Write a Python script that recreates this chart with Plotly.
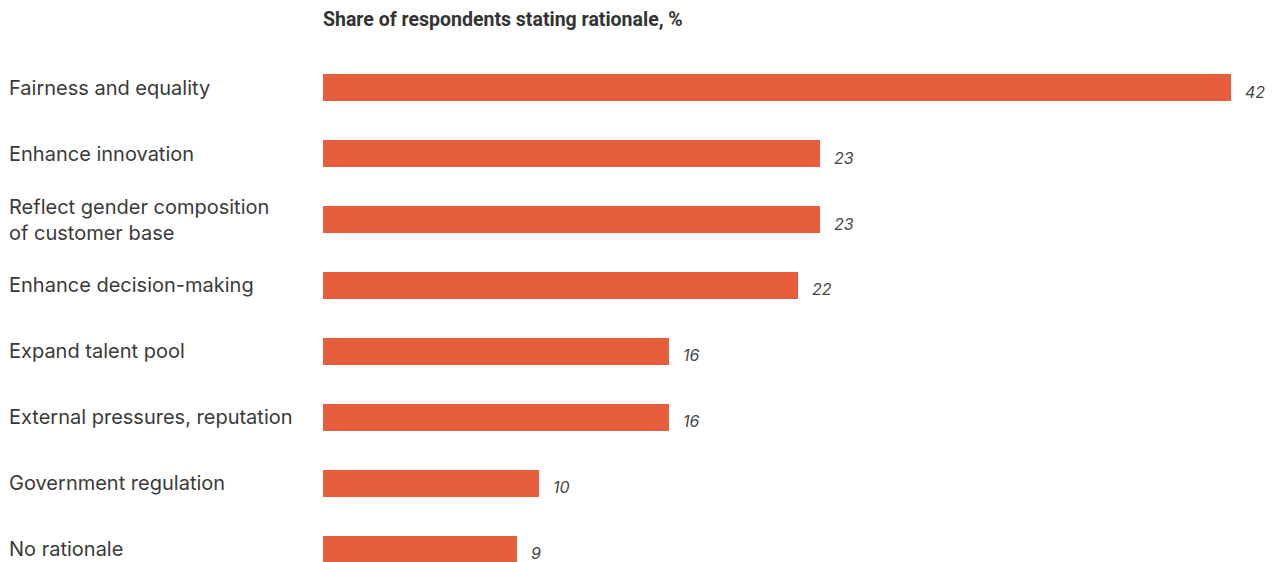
import plotly.graph_objects as go

categories = [
    "Fairness and equality",
    "Enhance innovation",
    "Reflect gender composition<br>of customer base",
    "Enhance decision-making",
    "Expand talent pool",
    "External pressures, reputation",
    "Government regulation",
    "No rationale",
]
values = [42, 23, 23, 22, 16, 16, 10, 9]
title_text = "Share of respondents stating rationale, %"

BAR_COLOR = "#E65E3E"
TEXT_COLOR = "#333333"

W, H = 1277, 562
LEFT, RIGHT, TOP, BOTTOM = 323, 14, 40, 0
plot_w = W - LEFT - RIGHT
plot_h = H - TOP - BOTTOM

pos = list(range(len(categories)))

fig = go.Figure(
    go.Bar(
        x=values,
        y=pos,
        orientation="h",
        marker=dict(color=BAR_COLOR, line=dict(width=0)),
        width=0.41,
        hoverinfo="skip",
    )
)

annotations = []
# category names, left aligned at the page edge
for i, name in enumerate(categories):
    annotations.append(dict(
        x=(7 - LEFT) / plot_w, xref="paper", xanchor="left",
        y=i, yref="y", yanchor="middle",
        text=name, showarrow=False, align="left",
        font=dict(family="Inter, sans-serif", size=20, color="#3a3a3a"),
    ))
# value labels next to the bar ends
for i, v in enumerate(values):
    annotations.append(dict(
        x=v, xref="x", xanchor="left", xshift=12,
        y=i, yref="y", yanchor="middle", yshift=-4,
        text=f"<i>{v}</i>", showarrow=False,
        font=dict(family="Inter, sans-serif", size=16, color="#444444"),
    ))
# header above the bars
annotations.append(dict(
    x=-2 / plot_w, xref="paper", xanchor="left",
    y=1 + (TOP - 19) / plot_h, yref="paper", yanchor="middle",
    text=f"<b>{title_text}</b>", showarrow=False,
    font=dict(family="Roboto, sans-serif", size=19.5, color=TEXT_COLOR),
))

fig.update_layout(
    width=W, height=H,
    margin=dict(l=LEFT, r=RIGHT, t=TOP, b=BOTTOM),
    paper_bgcolor="white", plot_bgcolor="white",
    showlegend=False,
    xaxis=dict(range=[0, 43.5], visible=False, fixedrange=True),
    yaxis=dict(range=[7.19, -0.72], visible=False, fixedrange=True),
    annotations=annotations,
    bargap=0,
)

fig.write_html("out.html", config={"displayModeBar": False})
